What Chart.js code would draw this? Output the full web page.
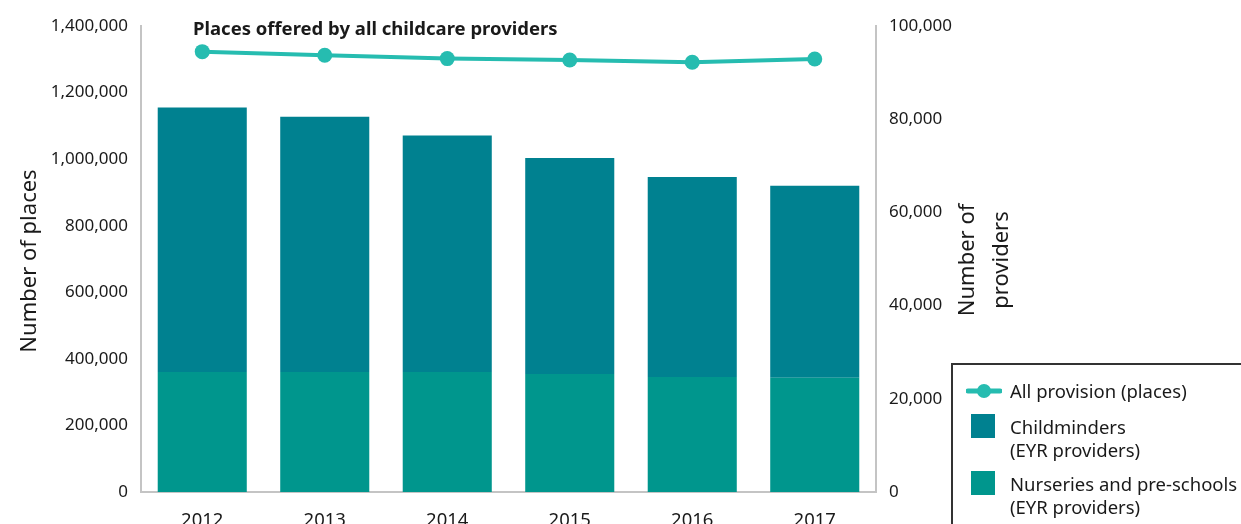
<!DOCTYPE html>
<html>
<head>
<meta charset="utf-8">
<script src="https://cdn.jsdelivr.net/npm/chart.js@4"></script>
<style>
  html, body { margin: 0; padding: 0; background: #fff; overflow: hidden; }
  #wrap { position: relative; width: 1241px; height: 545px; }
  #legend {
    position: absolute; left: 951px; top: 363px; width: 320px; height: 200px;
    border: 2px solid #333; box-sizing: border-box;
    font-family: "Noto Sans", sans-serif; font-size: 18.5px; color: #1a1a1a;
  }
  .item { position: absolute; left: 18px; line-height: 23px; }
  .swatch { position: absolute; left: 0; width: 24px; height: 24px; }
  .txt { position: absolute; left: 39px; white-space: nowrap; }
</style>
</head>
<body>
<div id="wrap">
  <canvas id="chart" width="1241" height="545"></canvas>
  <div id="legend"></div>
</div>
<script>
const years = ["2012", "2013", "2014", "2015", "2016", "2017"];
const allPlaces = [1323000, 1312000, 1302000, 1298000, 1291000, 1301000];
const childminders = [56750, 54750, 50750, 46400, 42900, 41200];
const nurseries = [25750, 25750, 25750, 25300, 24700, 24500];

const lineColour = "#26bcb0";
const cmColour = "#008190";
const nurseryColour = "#00968d";
const axisColour = "#c4c4c4";
const textColour = "#1a1a1a";
const font = "'Noto Sans', sans-serif";

const titles = {
  id: "titles",
  afterDraw(chart) {
    const c = chart.ctx;
    c.save();
    c.fillStyle = textColour;
    c.textAlign = "left";
    c.textBaseline = "alphabetic";
    c.font = "bold 18.5px " + font;
    c.fillText("Places offered by all childcare providers", 193, 35);

    c.font = "22px " + font;
    c.textAlign = "center";
    c.textBaseline = "middle";
    c.translate(30, 261);
    c.rotate(-Math.PI / 2);
    c.fillText("Number of places", 0, 0);
    c.restore();

    c.save();
    c.fillStyle = textColour;
    c.font = "22px " + font;
    c.textAlign = "center";
    c.textBaseline = "middle";
    c.translate(968, 260);
    c.rotate(-Math.PI / 2);
    c.fillText("Number of", 0, 0);
    c.fillText("providers", 0, 34);
    c.restore();
  }
};

const chart = new Chart(document.getElementById("chart").getContext("2d"), {
  data: {
    labels: years,
    datasets: [
      {
        type: "line",
        label: "All provision (places)",
        data: allPlaces,
        yAxisID: "y",
        borderColor: lineColour,
        backgroundColor: lineColour,
        borderWidth: 4,
        pointRadius: 7.5,
        pointBorderWidth: 0,
        pointBackgroundColor: lineColour,
        order: 1,
      },
      {
        type: "bar",
        label: "Nurseries and pre-schools\n(EYR providers)",
        data: nurseries,
        yAxisID: "y1",
        backgroundColor: nurseryColour,
        barPercentage: 0.727,
        categoryPercentage: 1,
        order: 2,
      },
      {
        type: "bar",
        label: "Childminders\n(EYR providers)",
        data: childminders,
        yAxisID: "y1",
        backgroundColor: cmColour,
        barPercentage: 0.727,
        categoryPercentage: 1,
        order: 2,
      },
    ],
  },
  options: {
    responsive: false,
    animation: false,
    layout: { padding: { left: 0, right: 265, top: 26, bottom: 13 } },
    plugins: {
      legend: { display: false },
      tooltip: { enabled: false },
    },
    scales: {
      x: {
        stacked: true,
        grid: { display: false, drawTicks: false },
        border: { color: axisColour, width: 2 },
        ticks: { color: textColour, font: { family: font, size: 18.5 }, padding: 18 },
        afterFit: (s) => { s.height = 40; },
      },
      y: {
        position: "left",
        min: 0,
        max: 1400000,
        grid: { display: false, drawTicks: false },
        border: { color: axisColour, width: 2 },
        ticks: {
          stepSize: 200000,
          color: textColour,
          padding: 13,
          font: { family: font, size: 17 },
          callback: (v) => v.toLocaleString("en-GB"),
        },
        afterFit: (s) => { s.width = 141; },
      },
      y1: {
        position: "right",
        stacked: true,
        min: 0,
        max: 100000,
        grid: { display: false, drawTicks: false },
        border: { color: axisColour, width: 2 },
        ticks: {
          stepSize: 20000,
          color: textColour,
          padding: 13,
          font: { family: font, size: 17 },
          callback: (v) => v.toLocaleString("en-GB"),
        },
        afterFit: (s) => { s.width = 100; },
      },
    },
  },
  plugins: [titles],
});

// legend in the order of the reference: line, childminders, nurseries
const legend = document.getElementById("legend");
const entries = [chart.data.datasets[0], chart.data.datasets[2], chart.data.datasets[1]];
const tops = [14, 50, 107];
entries.forEach((ds, i) => {
  const item = document.createElement("div");
  item.className = "item";
  item.style.top = tops[i] + "px";
  if (ds.type === "line") {
    item.innerHTML =
      '<svg width="36" height="24" style="position:absolute;left:-5px;top:0">' +
      '<line x1="2" y1="12" x2="34" y2="12" stroke="' + ds.borderColor + '" stroke-width="5" stroke-linecap="round"/>' +
      '<circle cx="18" cy="12" r="7" fill="' + ds.borderColor + '"/></svg>';
  } else {
    item.innerHTML = '<div class="swatch" style="background:' + ds.backgroundColor + ';top:-1px"></div>';
  }
  const t = document.createElement("div");
  t.className = "txt";
  t.innerHTML = ds.label.replace("\n", "<br>");
  item.appendChild(t);
  legend.appendChild(item);
});
</script>
</body>
</html>
